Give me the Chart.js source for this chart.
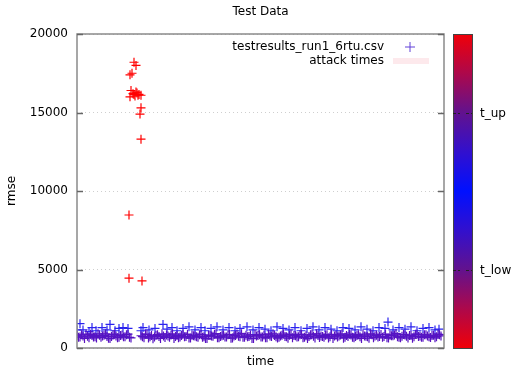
<!DOCTYPE html>
<html>
<head>
<meta charset="utf-8">
<script src="https://cdn.jsdelivr.net/npm/chart.js@4"></script>
<style>
  body { margin: 0; background: #fff; }
  canvas { display: block; }
</style>
</head>
<body>
<canvas id="myChart" width="512" height="369"></canvas>
<script>
// normal traffic, main band
var lowTimes = [0, 3, 6, 9, 12, 15, 18, 21, 24, 27, 30, 33, 36, 39, 42, 45, 48, 51, 54,
  64, 67, 70, 73, 76, 79, 82, 85, 88, 91, 94, 97, 100, 103, 106, 109, 112, 115, 118, 121,
  124, 127, 130, 133, 136, 139, 142, 145, 148, 151, 154, 157, 160, 163, 166, 169, 172, 175,
  178, 181, 184, 187, 190, 193, 196, 199, 202, 205, 208, 211, 214, 217, 220, 223, 226, 229,
  232, 235, 238, 241, 244, 247, 250, 253, 256, 259, 262, 265, 268, 271, 274, 277, 280, 283,
  286, 289, 292, 295, 298, 301, 304, 307, 310, 313, 316, 319, 322, 325, 328, 331, 334, 337,
  340, 343, 346, 349, 352, 355, 358, 361, 364];
var lowValues = [820, 700, 760, 880, 650, 790, 720, 900, 680, 810, 740, 600, 850, 770, 690, 830, 710, 880, 640,
  780, 650, 860, 720, 590, 810, 740, 900, 670, 760,
  830, 610, 790, 700, 880, 730, 640, 820, 760, 690,
  870, 720, 600, 800, 750, 910, 660, 780, 700, 840,
  620, 770, 890, 710, 680, 820, 740, 600, 860, 790,
  700, 830, 650, 760, 900, 720, 680, 810, 740, 620,
  870, 790, 700, 850, 660, 780, 730, 890, 640, 800,
  760, 690, 850, 720, 610, 820, 770, 900, 680, 740,
  830, 650, 790, 710, 880, 750, 620, 840, 770, 700,
  860, 730, 660, 810, 780, 920, 690, 750, 830, 640,
  800, 720, 870, 760, 680, 840, 710, 790, 650, 880,
  770];

// second pass of the band, between the first samples
var midTimes = [1.5, 4.5, 7.5, 10.5, 13.5, 16.5, 19.5, 22.5, 25.5, 28.5, 31.5, 34.5, 37.5, 40.5, 43.5, 46.5, 49.5, 52.5,
  65.5, 68.5, 71.5, 74.5, 77.5, 80.5, 83.5, 86.5, 89.5, 92.5, 95.5, 98.5, 101.5, 104.5, 107.5, 110.5,
  113.5, 116.5, 119.5, 122.5, 125.5, 128.5, 131.5, 134.5, 137.5, 140.5, 143.5, 146.5, 149.5, 152.5,
  155.5, 158.5, 161.5, 164.5, 167.5, 170.5, 173.5, 176.5, 179.5, 182.5, 185.5, 188.5, 191.5, 194.5,
  197.5, 200.5, 203.5, 206.5, 209.5, 212.5, 215.5, 218.5, 221.5, 224.5, 227.5, 230.5, 233.5, 236.5,
  239.5, 242.5, 245.5, 248.5, 251.5, 254.5, 257.5, 260.5, 263.5, 266.5, 269.5, 272.5, 275.5, 278.5,
  281.5, 284.5, 287.5, 290.5, 293.5, 296.5, 299.5, 302.5, 305.5, 308.5, 311.5, 314.5, 317.5, 320.5,
  323.5, 326.5, 329.5, 332.5, 335.5, 338.5, 341.5, 344.5, 347.5, 350.5, 353.5, 356.5, 359.5, 362.5];
var midValues = [690, 840, 610, 750, 870, 700, 640, 810, 760, 900, 620, 730, 880, 660, 790, 710, 850, 680,
  720, 880, 640, 790, 700, 850, 610, 760, 830, 680,
  900, 740, 650, 800, 710, 870, 630, 780, 720, 840,
  690, 600, 810, 760, 880, 650, 730, 820, 700, 860,
  640, 790, 750, 910, 680, 720, 830, 610, 770, 850,
  700, 660, 880, 740, 800, 630, 760, 890, 710, 820,
  650, 780, 720, 860, 690, 600, 840, 750, 900, 670,
  730, 810, 640, 870, 760, 700, 830, 620, 790, 880,
  680, 740, 850, 610, 770, 720, 900, 660, 810, 740,
  690, 870, 630, 780, 830, 710, 650, 860, 750, 800,
  620, 880, 730, 690, 840, 760, 670, 810, 720, 850];

// upper blue points
var highTimes = [0, 3, 6, 12, 15, 19, 25, 30, 33, 38, 42, 46, 51,
  64, 66, 72, 78, 86, 90, 95, 100, 106, 112, 118, 124, 128, 134, 140, 146, 152, 158, 163,
  170, 176, 182, 188, 194, 200, 206, 212, 218, 224, 230, 236, 242, 248, 254, 260, 266, 272,
  278, 284, 290, 296, 302, 308, 311, 316, 322, 328, 334, 340, 346, 352, 358, 362];
var highValues = [1150, 1550, 1150, 1050, 1300, 1100, 1300, 1150, 1500, 1100, 1250, 1300, 1250,
  1100, 1300, 1150, 1250, 1500, 1200, 1300, 1100, 1250, 1350, 1150, 1300, 1100, 1250, 1350, 1150, 1300, 1100, 1250,
  1350, 1150, 1300, 1200, 1100, 1350, 1250, 1150, 1300, 1100, 1250, 1350, 1150, 1300, 1200, 1100, 1300, 1250,
  1150, 1350, 1200, 1100, 1300, 1250, 1650, 1150, 1300, 1200, 1350, 1100, 1250, 1300, 1150, 1200];

// attack points
var attackTimes = [52, 52, 57, 59, 55, 53, 54, 53, 56, 57, 59, 60, 61, 62, 64, 58, 64, 63, 64, 65];
var attackValues = [4450, 8470, 18200, 18000, 17500, 17400, 16400, 16000, 16200, 16150,
  16300, 16250, 16100, 16150, 16100, 16050, 15300, 14900, 13300, 4270];

var yTicks = [0, 5000, 10000, 15000, 20000];
var cbLabels = ["t_up", "t_low"];
var cbLabelPos = [0.25, 0.75];

function pts(t, v) {
  return t.map(function (x, i) { return { x: x, y: v[i] }; });
}

var font = "12px 'DejaVu Sans', sans-serif";

var decor = {
  id: "decor",
  afterDraw: function (c) {
    var ctx = c.ctx, a = c.chartArea, y = c.scales.y;
    ctx.save();
    // frame
    ctx.strokeStyle = "#8a8a8a";
    ctx.lineWidth = 1.5;
    ctx.strokeRect(a.left, a.top, a.right - a.left, a.bottom - a.top);
    // inward ticks
    ctx.strokeStyle = "#666";
    yTicks.forEach(function (v) {
      var py = Math.round(y.getPixelForValue(v)) + 0.5;
      ctx.beginPath();
      ctx.moveTo(a.left, py); ctx.lineTo(a.left + 6, py);
      ctx.moveTo(a.right, py); ctx.lineTo(a.right - 6, py);
      ctx.stroke();
    });
    // texts
    ctx.fillStyle = "#000";
    ctx.font = font;
    ctx.textAlign = "center";
    ctx.textBaseline = "middle";
    ctx.fillText("Test Data", (a.left + a.right) / 2, 12);
    ctx.fillText("time", (a.left + a.right) / 2, 362);
    ctx.save();
    ctx.translate(12, (a.top + a.bottom) / 2);
    ctx.rotate(-Math.PI / 2);
    ctx.fillText("rmse", 0, 0);
    ctx.restore();
    // legend
    ctx.textAlign = "right";
    ctx.fillText("testresults_run1_6rtu.csv", 384, 47);
    ctx.fillText("attack times", 384, 61);
    ctx.strokeStyle = "#6040d8";
    ctx.lineWidth = 1;
    ctx.beginPath();
    ctx.moveTo(405, 47); ctx.lineTo(415, 47);
    ctx.moveTo(410, 42); ctx.lineTo(410, 52);
    ctx.stroke();
    ctx.fillStyle = "#fde9ec";
    ctx.fillRect(393, 58, 36, 6);
    // colour box
    var cx = 453, cw = 19, top = a.top, bot = a.bottom;
    var g = ctx.createLinearGradient(0, top, 0, bot);
    g.addColorStop(0, "#f00008");
    g.addColorStop(0.12, "#b00848");
    g.addColorStop(0.25, "#62128e");
    g.addColorStop(0.38, "#3010d0");
    g.addColorStop(0.5, "#0010ff");
    g.addColorStop(0.62, "#3010d0");
    g.addColorStop(0.75, "#62128e");
    g.addColorStop(0.88, "#b00848");
    g.addColorStop(1, "#f00008");
    ctx.fillStyle = g;
    ctx.fillRect(cx, top, cw, bot - top);
    ctx.strokeStyle = "#444";
    ctx.lineWidth = 1;
    ctx.strokeRect(cx + 0.5, top + 0.5, cw, bot - top);
    ctx.fillStyle = "#000";
    ctx.textAlign = "left";
    cbLabelPos.forEach(function (f, i) {
      var py = Math.round(top + f * (bot - top)) + 0.5;
      ctx.setLineDash([3, 2]);
      ctx.strokeStyle = "#222";
      ctx.beginPath();
      ctx.moveTo(cx, py); ctx.lineTo(cx + 7, py);
      ctx.moveTo(cx + cw - 6, py); ctx.lineTo(cx + cw, py);
      ctx.stroke();
      ctx.setLineDash([]);
      ctx.fillText(cbLabels[i], 480, py);
    });
    ctx.restore();
  }
};

var chart = document.getElementById("myChart").getContext("2d");
var myChart = new Chart(chart, {
  type: "scatter",
  data: {
    datasets: [
      {
        data: pts(lowTimes, lowValues),
        pointStyle: "cross",
        pointRadius: 4.5,
        borderColor: "#5514c4",
        borderWidth: 1.2,
      },
      {
        data: pts(midTimes, midValues),
        pointStyle: "cross",
        pointRadius: 4.5,
        borderColor: "#5a12c0",
        borderWidth: 1.2,
      },
      {
        data: pts(highTimes, highValues),
        pointStyle: "cross",
        pointRadius: 4.5,
        borderColor: "#2a22ee",
        borderWidth: 1.2,
      },
      {
        data: pts(attackTimes, attackValues),
        pointStyle: "cross",
        pointRadius: 4.5,
        borderColor: "#ff0000",
        borderWidth: 1.2,
      },
    ],
  },
  options: {
    responsive: false,
    animation: false,
    layout: { padding: { left: 0, top: 34, right: 68, bottom: 21 } },
    plugins: { legend: { display: false }, tooltip: { enabled: false } },
    scales: {
      x: { type: "linear", display: false, min: 0, max: 367 },
      y: {
        min: 0,
        max: 20000,
        afterFit: function (s) { s.width = 77; },
        afterBuildTicks: function (s) { s.ticks = yTicks.map(function (v) { return { value: v }; }); },
        ticks: {
          font: { family: "DejaVu Sans", size: 12 },
          color: "#000",
          padding: 9,
          callback: function (v) { return String(v); },
        },
        grid: { color: "#cfcfcf", drawTicks: false, lineWidth: 1 },
        border: { display: false, dash: [1, 3] },
      },
    },
  },
  plugins: [decor],
});
</script>
</body>
</html>
